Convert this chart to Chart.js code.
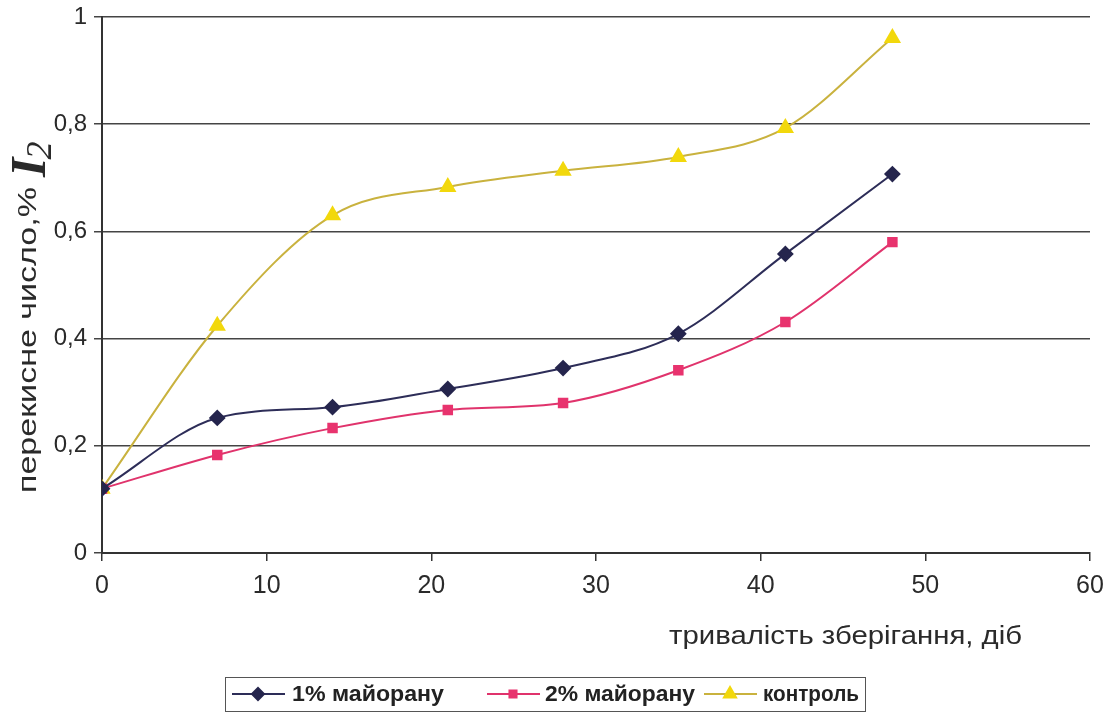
<!DOCTYPE html>
<html>
<head>
<meta charset="utf-8">
<script src="https://cdn.jsdelivr.net/npm/chart.js@4.4.1/dist/chart.umd.min.js"></script>
<style>
html,body{margin:0;padding:0;background:#fff;}
#wrap{width:1107px;height:722px;position:relative;}
</style>
</head>
<body>
<div id="wrap"><canvas id="c" width="1107" height="722"></canvas></div>
<script>
const days = [0, 7, 14, 21, 28, 35, 41.5, 48];
const series1Label = '1% майорану';
const series1 = [0.12, 0.252, 0.272, 0.306, 0.345, 0.409, 0.558, 0.707];
const series2Label = '2% майорану';
const series2 = [0.12, 0.183, 0.233, 0.267, 0.280, 0.341, 0.431, 0.580];
const series3Label = 'контроль';
const series3 = [0.12, 0.424, 0.630, 0.683, 0.713, 0.739, 0.793, 0.961];
const xTicks = [0, 10, 20, 30, 40, 50, 60];
const yTicks = [0, 0.2, 0.4, 0.6, 0.8, 1];
const xTitle = 'тривалість зберігання, діб';
const yTitle = 'перекисне число,%';

const styles = [
  {line:'#2d2d58', fill:'#25254d', point:'rectRot', r:7},
  {line:'#e0336c', fill:'#e8336e', point:'rect', r:6},
  {line:'#c9b23e', fill:'#f2d80c', point:'triangle', r:8}
];
const labels = [series1Label, series2Label, series3Label];
const datas = [series1, series2, series3];

const datasets = datas.map((d, i) => ({
  label: labels[i],
  data: d.map((v, k) => ({x: days[k], y: v})),
  borderColor: styles[i].line,
  backgroundColor: styles[i].fill,
  pointBackgroundColor: styles[i].fill,
  pointBorderColor: styles[i].fill,
  pointStyle: styles[i].point,
  pointRadius: styles[i].r,
  borderWidth: 2,
  tension: 0.4,
  cubicInterpolationMode: 'monotone'
}));

const SANS = '"Liberation Sans", Arial, sans-serif';
const SERIF = '"Liberation Serif", "Times New Roman", serif';

function fitText(ctx, text, x, y, targetW) {
  const w = ctx.measureText(text).width;
  ctx.save();
  ctx.translate(x, y);
  ctx.scale(targetW / w, 1);
  ctx.fillText(text, 0, 0);
  ctx.restore();
}

const titlesPlugin = {
  id: 'titles',
  afterDraw(chart) {
    const ctx = chart.ctx;
    ctx.save();
    ctx.fillStyle = '#2a2a2a';
    ctx.textBaseline = 'alphabetic';
    ctx.textAlign = 'left';
    ctx.font = '26px ' + SANS;
    fitText(ctx, xTitle, 669, 644, 353);
    // y title rotated
    ctx.translate(36, 493);
    ctx.rotate(-Math.PI / 2);
    ctx.font = '26px ' + SANS;
    fitText(ctx, yTitle, 0, 0, 306);
    ctx.font = 'italic bold 50px ' + SERIF;
    ctx.fillText('I', 316, 9);
    const wI = ctx.measureText('I').width;
    ctx.font = 'italic 36px ' + SERIF;
    ctx.fillText('2', 316 + wI - 2, 15);
    ctx.restore();

    // legend
    ctx.save();
    ctx.strokeStyle = '#555';
    ctx.lineWidth = 1;
    ctx.strokeRect(225.5, 677.5, 640, 34);
    const xs = [232, 487, 704];
    const tx = [292, 545, 763];
    const tw = [152, 150, 96];
    ctx.font = 'bold 22px ' + SANS;
    ctx.textBaseline = 'middle';
    for (let i = 0; i < 3; i++) {
      const s = styles[i];
      const x0 = xs[i], y0 = 694;
      ctx.strokeStyle = s.line;
      ctx.lineWidth = 2;
      ctx.beginPath(); ctx.moveTo(x0, y0); ctx.lineTo(x0 + 53, y0); ctx.stroke();
      ctx.fillStyle = s.fill;
      ctx.strokeStyle = s.fill;
      Chart.helpers.drawPoint(ctx, {pointStyle: s.point, radius: s.r - 1, borderWidth: 1}, x0 + 26, y0);
      ctx.fillStyle = '#222';
      fitText(ctx, labels[i], tx[i], y0 + 1, tw[i]);
    }
    ctx.restore();
  }
};

new Chart(document.getElementById('c'), {
  type: 'line',
  data: {datasets},
  options: {
    responsive: false,
    animation: false,
    layout: {padding: {top: 17, left: 0, right: 17, bottom: 0}},
    plugins: {legend: {display: false}, tooltip: {enabled: false}},
    scales: {
      x: {
        type: 'linear', min: 0, max: 60,
        afterBuildTicks: s => { s.ticks = xTicks.map(v => ({value: v})); },
        afterFit: s => { s.height = 169; s.paddingLeft = 0; s.paddingRight = 0; },
        border: {color: '#333', width: 2},
        grid: {drawOnChartArea: false, color: '#333', lineWidth: 1.5, tickLength: 8},
        ticks: {color: '#2a2a2a', font: {size: 25, family: SANS}, padding: 10, maxRotation: 0}
      },
      y: {
        min: 0, max: 1,
        afterBuildTicks: s => { s.ticks = yTicks.map(v => ({value: v})); },
        afterFit: s => { s.width = 102; s.paddingTop = 0; s.paddingBottom = 0; },
        border: {color: '#333', width: 2},
        grid: {color: '#444', lineWidth: 1.5, tickLength: 8},
        ticks: {color: '#2a2a2a', font: {size: 24, family: SANS}, padding: 7,
          callback: v => String(Math.round(v * 10) / 10).replace('.', ',')}
      }
    }
  },
  plugins: [titlesPlugin]
});
</script>
</body>
</html>
